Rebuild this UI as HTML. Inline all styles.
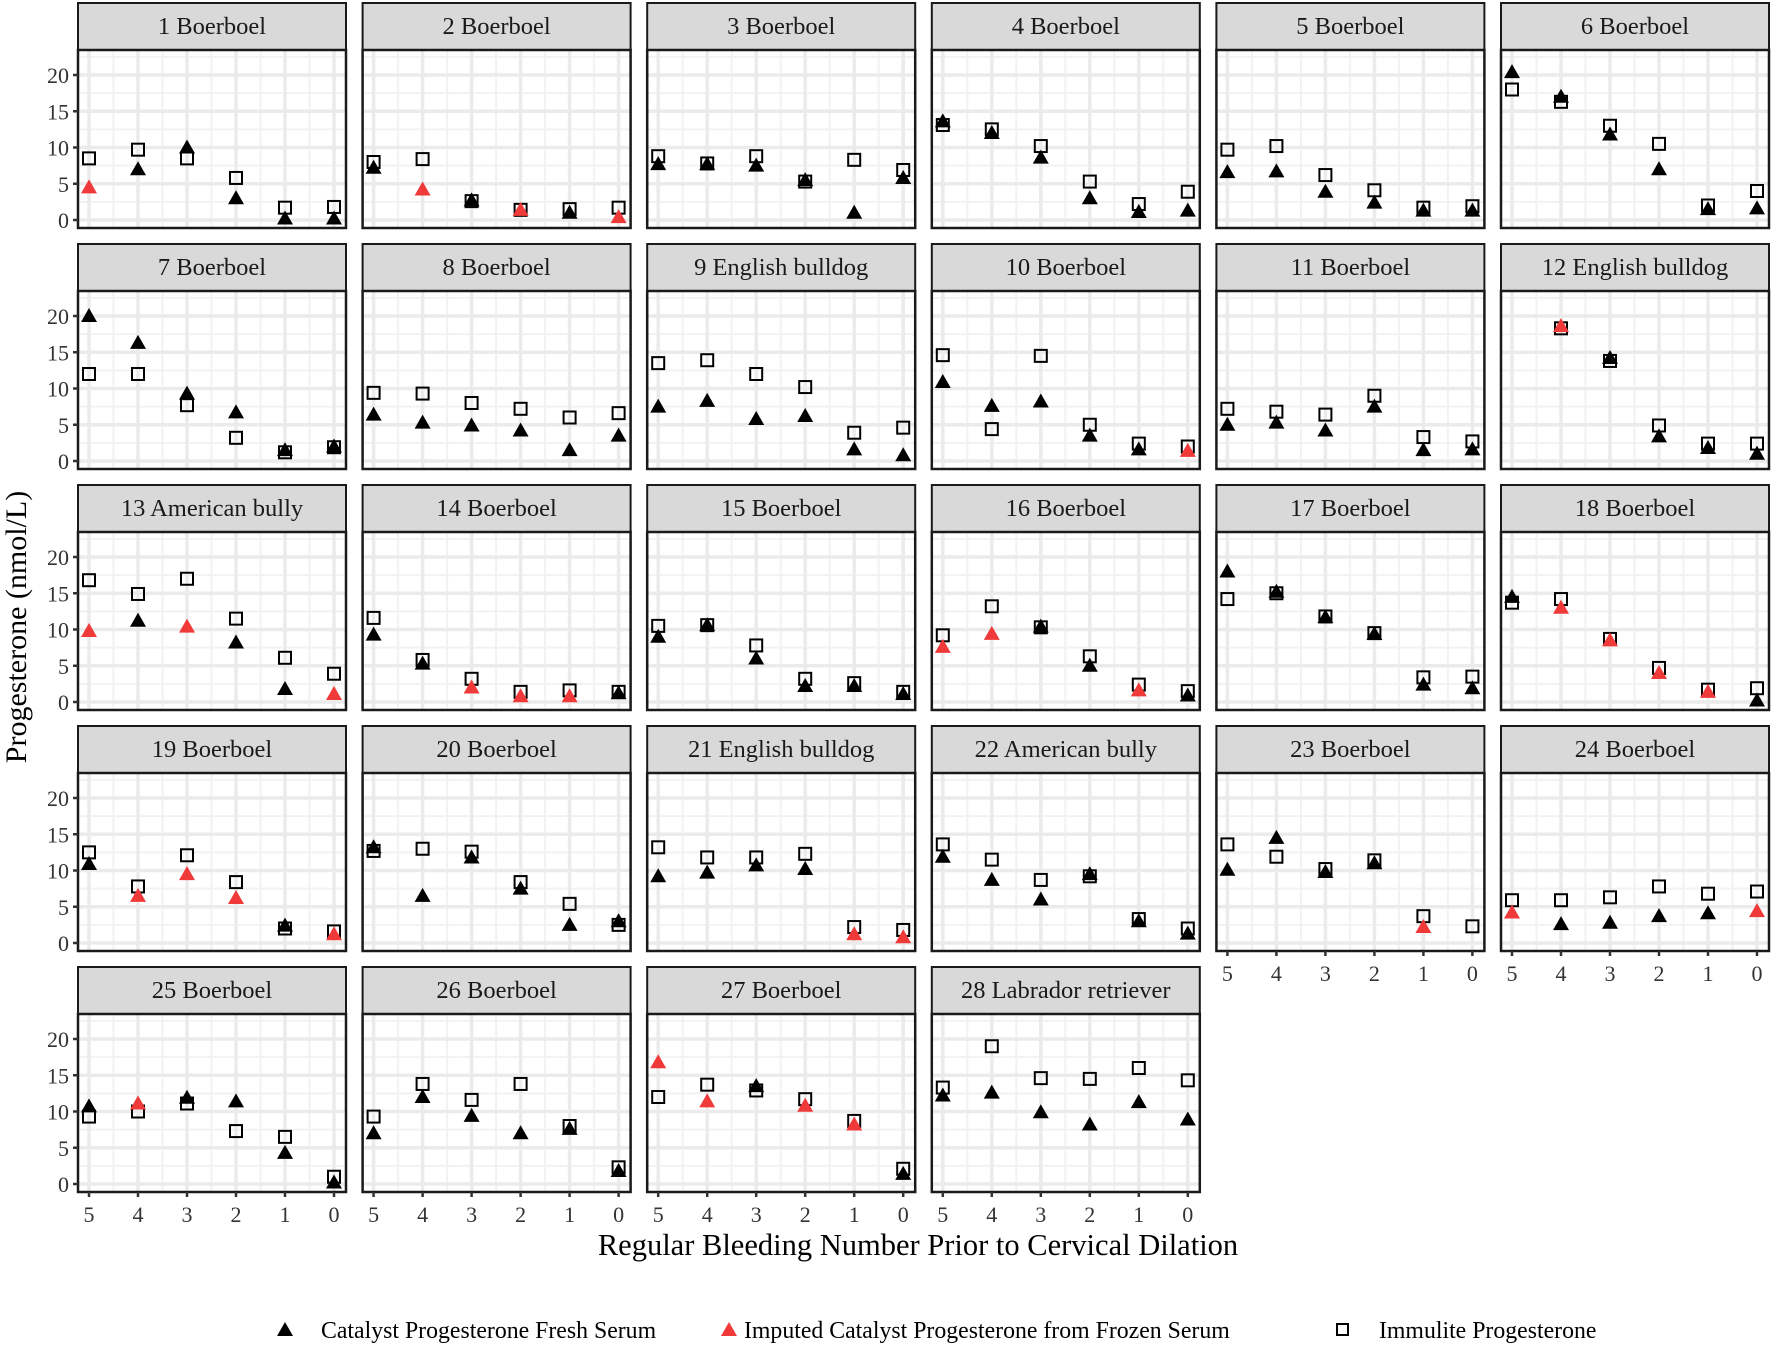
<!DOCTYPE html>
<html><head><meta charset="utf-8">
<style>
html,body{margin:0;padding:0;background:#fff;}
svg{display:block;font-family:"Liberation Serif",serif;}
</style></head>
<body>
<svg id="chart" width="1772" height="1346" viewBox="0 0 1772 1346" xmlns="http://www.w3.org/2000/svg">
<text x="0" y="0" transform="translate(26,627) rotate(-90)" text-anchor="middle" font-size="30">Progesterone (nmol/L)</text>
<text x="918" y="1255" text-anchor="middle" font-size="30.5">Regular Bleeding Number Prior to Cervical Dilation</text>
<g>
<polygon points="285,1322 277,1336 293,1336" fill="#000"/>
<text x="321" y="1338" font-size="23.8">Catalyst Progesterone Fresh Serum</text>
<polygon points="729,1322 721,1336 737,1336" fill="#f03a3a"/>
<text x="744" y="1338" font-size="23.8">Imputed Catalyst Progesterone from Frozen Serum</text>
<rect x="1337" y="1324" width="11" height="11" fill="none" stroke="#000" stroke-width="2"/>
<text x="1379" y="1338" font-size="23.8">Immulite Progesterone</text>
</g>
</svg>
<script>
const titles=["1 Boerboel","2 Boerboel","3 Boerboel","4 Boerboel","5 Boerboel","6 Boerboel","7 Boerboel","8 Boerboel","9 English bulldog","10 Boerboel","11 Boerboel","12 English bulldog","13 American bully","14 Boerboel","15 Boerboel","16 Boerboel","17 Boerboel","18 Boerboel","19 Boerboel","20 Boerboel","21 English bulldog","22 American bully","23 Boerboel","24 Boerboel","25 Boerboel","26 Boerboel","27 Boerboel","28 Labrador retriever"];
const xCategories=[5,4,3,2,1,0];
const yTicks=[0,5,10,15,20];
const N=null;
const fresh=[
[N,7,10,3,0.2,0.2],[7.2,N,2.7,N,1,N],[7.7,7.7,7.5,5.5,1,5.8],[13.6,12,8.6,3,1.1,1.3],[6.6,6.7,3.9,2.4,1.3,1.3],[20.4,17,11.8,7,1.5,1.6],
[20,16.3,9.3,6.7,1.5,2],[6.4,5.3,4.9,4.2,1.5,3.5],[7.5,8.3,5.8,6.2,1.6,0.8],[10.9,7.6,8.2,3.5,1.6,N],[5,5.3,4.2,7.5,1.5,1.6],[N,N,14.2,3.4,1.8,1],
[N,11.2,N,8.2,1.8,N],[9.3,5.3,N,N,N,1.2],[9,10.6,6,2.2,2.2,1.1],[N,N,10.4,5,N,0.9],[18,15.2,11.7,9.4,2.4,1.9],[14.5,N,N,N,N,0.2],
[10.9,N,N,N,2.4,N],[13.2,6.5,11.8,7.5,2.5,3],[9.2,9.7,10.7,10.2,N,N],[11.9,8.7,6,9.5,3,1.3],[10.1,14.5,9.8,11,N,N],[N,2.6,2.8,3.7,4.1,N],
[10.7,N,11.9,11.4,4.3,0.2],[7,12,9.4,7,7.6,1.8],[N,N,13.5,N,N,1.4],[12.2,12.6,9.9,8.2,11.3,8.9]];
const imputed=[
[4.5,N,N,N,N,N],[N,4.2,N,1.4,N,0.4],[N,N,N,N,N,N],[N,N,N,N,N,N],[N,N,N,N,N,N],[N,N,N,N,N,N],
[N,N,N,N,N,N],[N,N,N,N,N,N],[N,N,N,N,N,N],[N,N,N,N,N,1.4],[N,N,N,N,N,N],[N,18.6,N,N,N,N],
[9.8,N,10.4,N,N,1.1],[N,N,2,0.8,0.8,N],[N,N,N,N,N,N],[7.6,9.4,N,N,1.6,N],[N,N,N,N,N,N],[N,13,8.5,4,1.4,N],
[N,6.5,9.5,6.2,N,1.2],[N,N,N,N,N,N],[N,N,N,N,1.2,0.8],[N,N,N,N,N,N],[N,N,N,N,2.2,N],[4.2,N,N,N,N,4.4],
[N,11.1,N,N,N,N],[N,N,N,N,N,N],[16.8,11.4,N,10.8,8.2,N],[N,N,N,N,N,N]];
const immulite=[
[8.5,9.7,8.5,5.8,1.7,1.8],[8,8.4,2.6,1.4,1.5,1.7],[8.8,7.8,8.8,5.3,8.3,6.9],[13.1,12.5,10.2,5.3,2.2,3.9],[9.7,10.2,6.2,4.1,1.7,1.9],[18,16.3,13,10.5,2,4],
[12,12,7.7,3.2,1.2,1.9],[9.4,9.3,8,7.2,6,6.6],[13.5,13.9,12,10.2,3.9,4.6],[14.6,4.4,14.5,5,2.4,2],[7.2,6.8,6.4,9,3.3,2.7],[N,18.3,13.8,4.9,2.4,2.4],
[16.8,14.9,17,11.5,6.1,3.9],[11.6,5.8,3.2,1.4,1.6,1.4],[10.5,10.6,7.8,3.2,2.6,1.4],[9.2,13.2,10.3,6.3,2.4,1.5],[14.2,15,11.8,9.5,3.4,3.5],[13.7,14.2,8.7,4.7,1.7,1.9],
[12.5,7.8,12.1,8.4,2,1.6],[12.7,13,12.6,8.4,5.4,2.5],[13.2,11.8,11.8,12.3,2.2,1.8],[13.6,11.5,8.7,9.2,3.3,2],[13.6,11.9,10.2,11.4,3.7,2.3],[5.9,5.9,6.3,7.8,6.8,7.1],
[9.3,10,11.1,7.3,6.5,1],[9.3,13.8,11.6,13.8,8,2.3],[12,13.7,12.9,11.7,8.7,2.1],[13.3,19,14.6,14.5,16,14.3]];

const NS="http://www.w3.org/2000/svg";
const svg=document.getElementById('chart');
const PW=268, STRIP=47, PH=178, COLP=284.6, ROWP=241, LEFT0=78, TOP0=3;
function mk(tag,attrs,parent){const e=document.createElementNS(NS,tag);for(const k in attrs)e.setAttribute(k,attrs[k]);parent.appendChild(e);return e;}
titles.forEach((t,i)=>{
  const col=i%6,row=Math.floor(i/6);
  const L=LEFT0+col*COLP, T=TOP0+row*ROWP, PT=T+STRIP, PB=PT+PH;
  const xs=c=>L+11+(5-c)*49;
  const ys=v=>PB-8-v*7.25;
  const g=mk('g',{},svg);
  
  
  const strip=mk('rect',{x:L,y:T,width:PW,height:STRIP,fill:'#d9d9d9',stroke:'#1a1a1a','stroke-width':2},g);
  
  
  const st=mk('text',{x:L+PW/2,y:T+31,'text-anchor':'middle','font-size':24.5,fill:'#1a1a1a'},g);
  st.textContent=t;
  
  
  mk('rect',{x:L,y:PT,width:PW,height:PH,fill:'#fff'},g);
  for(let v=2.5;v<=22.5;v+=5){mk('line',{x1:L,x2:L+PW,y1:ys(v),y2:ys(v),stroke:'#f2f2f2','stroke-width':2},g);}
  for(let c=0.5;c<5;c+=1){mk('line',{x1:xs(c),x2:xs(c),y1:PT,y2:PB,stroke:'#f2f2f2','stroke-width':2},g);}
  yTicks.forEach(v=>{mk('line',{x1:L,x2:L+PW,y1:ys(v),y2:ys(v),stroke:'#ebebeb','stroke-width':3.5},g);});
  xCategories.forEach(c=>{mk('line',{x1:xs(c),x2:xs(c),y1:PT,y2:PB,stroke:'#ebebeb','stroke-width':3.5},g);});
  const series=[[immulite,'sq'],[fresh,'#000'],[imputed,'#f03a3a']];
  series.forEach(([arr,kind])=>{
    arr[i].forEach((v,j)=>{
      if(v===null)return;
      const x=xs(xCategories[j]),y=ys(v);
      let m;
      if(kind==='sq'){m=mk('rect',{x:x-6,y:y-6,width:12,height:12,fill:'none',stroke:'#000','stroke-width':2},g);}
      else{m=mk('polygon',{points:`${x},${y-8} ${x-8},${y+6} ${x+8},${y+6}`,fill:kind},g);}
      
    });
  });
  const bd=mk('rect',{x:L,y:PT,width:PW,height:PH,fill:'none',stroke:'#1a1a1a','stroke-width':2.5},g);
  
  
  if(col===0){
    yTicks.forEach(v=>{
      mk('line',{x1:L-5,x2:L,y1:ys(v),y2:ys(v),stroke:'#333','stroke-width':2.5},g);
      const tl=mk('text',{x:L-9,y:ys(v)+8,'text-anchor':'end','font-size':22,fill:'#333'},g);
      tl.textContent=v;
      
      
    });
  }
  if(i>=22){
    xCategories.forEach(c=>{
      mk('line',{x1:xs(c),x2:xs(c),y1:PB,y2:PB+5,stroke:'#333','stroke-width':2.5},g);
      const tl=mk('text',{x:xs(c),y:PB+30,'text-anchor':'middle','font-size':22,fill:'#333'},g);
      tl.textContent=c;
      
      
    });
  }
});
</script>
</body></html>
